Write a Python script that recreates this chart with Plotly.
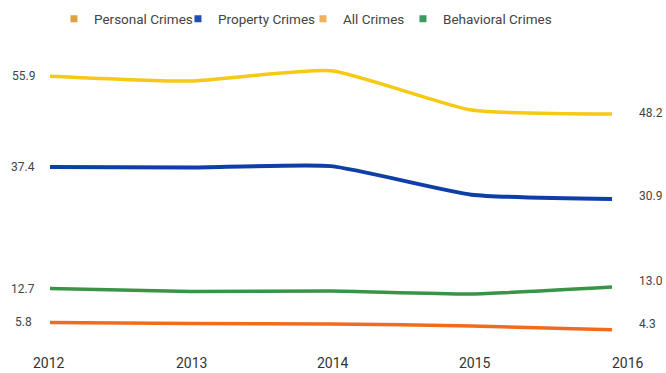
import plotly.graph_objects as go

years = [2012, 2013, 2014, 2015, 2016]
personal = [5.8, 5.6, 5.5, 5.1, 4.3]
property_ = [37.4, 37.3, 37.6, 31.8, 30.9]
all_crimes = [55.9, 54.9, 57.0, 49.0, 48.2]
behavioral = [12.7, 12.1, 12.2, 11.6, 13.0]

names = ["Personal Crimes", "Property Crimes", "All Crimes", "Behavioral Crimes"]
series = [personal, property_, all_crimes, behavioral]
colors = ["#F26B1D", "#0D3FA6", "#F6C915", "#3A9447"]
legend_colors = ["#E0A040", "#1F4FB0", "#F0B060", "#3A9A60"]
widths = [3.5, 4, 3.5, 3.5]
legend_w = [79, 80, 55, 120]
label_y_shift = [[0, 6], [0, 3], [0, 1], [0, 6]]

fig = go.Figure()
for name, vals, col, w in zip(names, series, colors, widths):
    fig.add_trace(go.Scatter(
        x=years, y=vals, name=name, mode="lines", legendgroup=name, showlegend=False,
        line=dict(color=col, width=w, shape="spline", smoothing=0.5),
    ))
# legend entries (small square swatches like the reference)
for name, lc, lw in zip(names, legend_colors, legend_w):
    fig.add_trace(go.Scatter(
        x=[None], y=[None], name=name, mode="markers", legendgroup=name,
        marker=dict(color=lc, size=7, symbol="square"), legendwidth=lw,
    ))

ann = []
for vals, (ls, rs) in zip(series, label_y_shift):
    ann.append(dict(x=years[0], y=vals[0], xref="x", yref="y", text=f"{vals[0]:.1f}",
                    showarrow=False, xanchor="center", xshift=-27, yshift=ls,
                    font=dict(family="Roboto", size=12, color="#444")))
    ann.append(dict(x=years[-1], y=vals[-1], xref="x", yref="y", text=f"{vals[-1]:.1f}",
                    showarrow=False, xanchor="left", xshift=25, yshift=rs,
                    font=dict(family="Roboto", size=12, color="#444")))

year_shift = [-1, 1, 2, 3, 16]
for yr, sh in zip(years, year_shift):
    ann.append(dict(x=yr, y=0, xref="x", yref="paper", text=str(yr), showarrow=False,
                    xanchor="center", yanchor="middle", yshift=-12, xshift=sh,
                    font=dict(family="Roboto", size=14, color="#333")))

pad = 10 / 140.5
fig.update_layout(
    width=666, height=373,
    margin=dict(l=40, r=44, t=56, b=22),
    paper_bgcolor="white", plot_bgcolor="white",
    xaxis=dict(range=[2012 - pad, 2016 + pad], showgrid=False, zeroline=False,
               showticklabels=False, showline=False, ticks=""),
    yaxis=dict(range=[0, 60], showgrid=False, zeroline=False,
               showticklabels=False, showline=False, ticks=""),
    showlegend=True,
    legend=dict(orientation="h", x=0.024, xanchor="left", yref="container",
                y=1 - 19 / 373, yanchor="middle", itemwidth=30,
                font=dict(family="Roboto", size=13.5, color="#444"),
                bgcolor="rgba(0,0,0,0)"),
    annotations=ann,
    font=dict(family="Roboto"),
)

fig.write_html("out.html")
